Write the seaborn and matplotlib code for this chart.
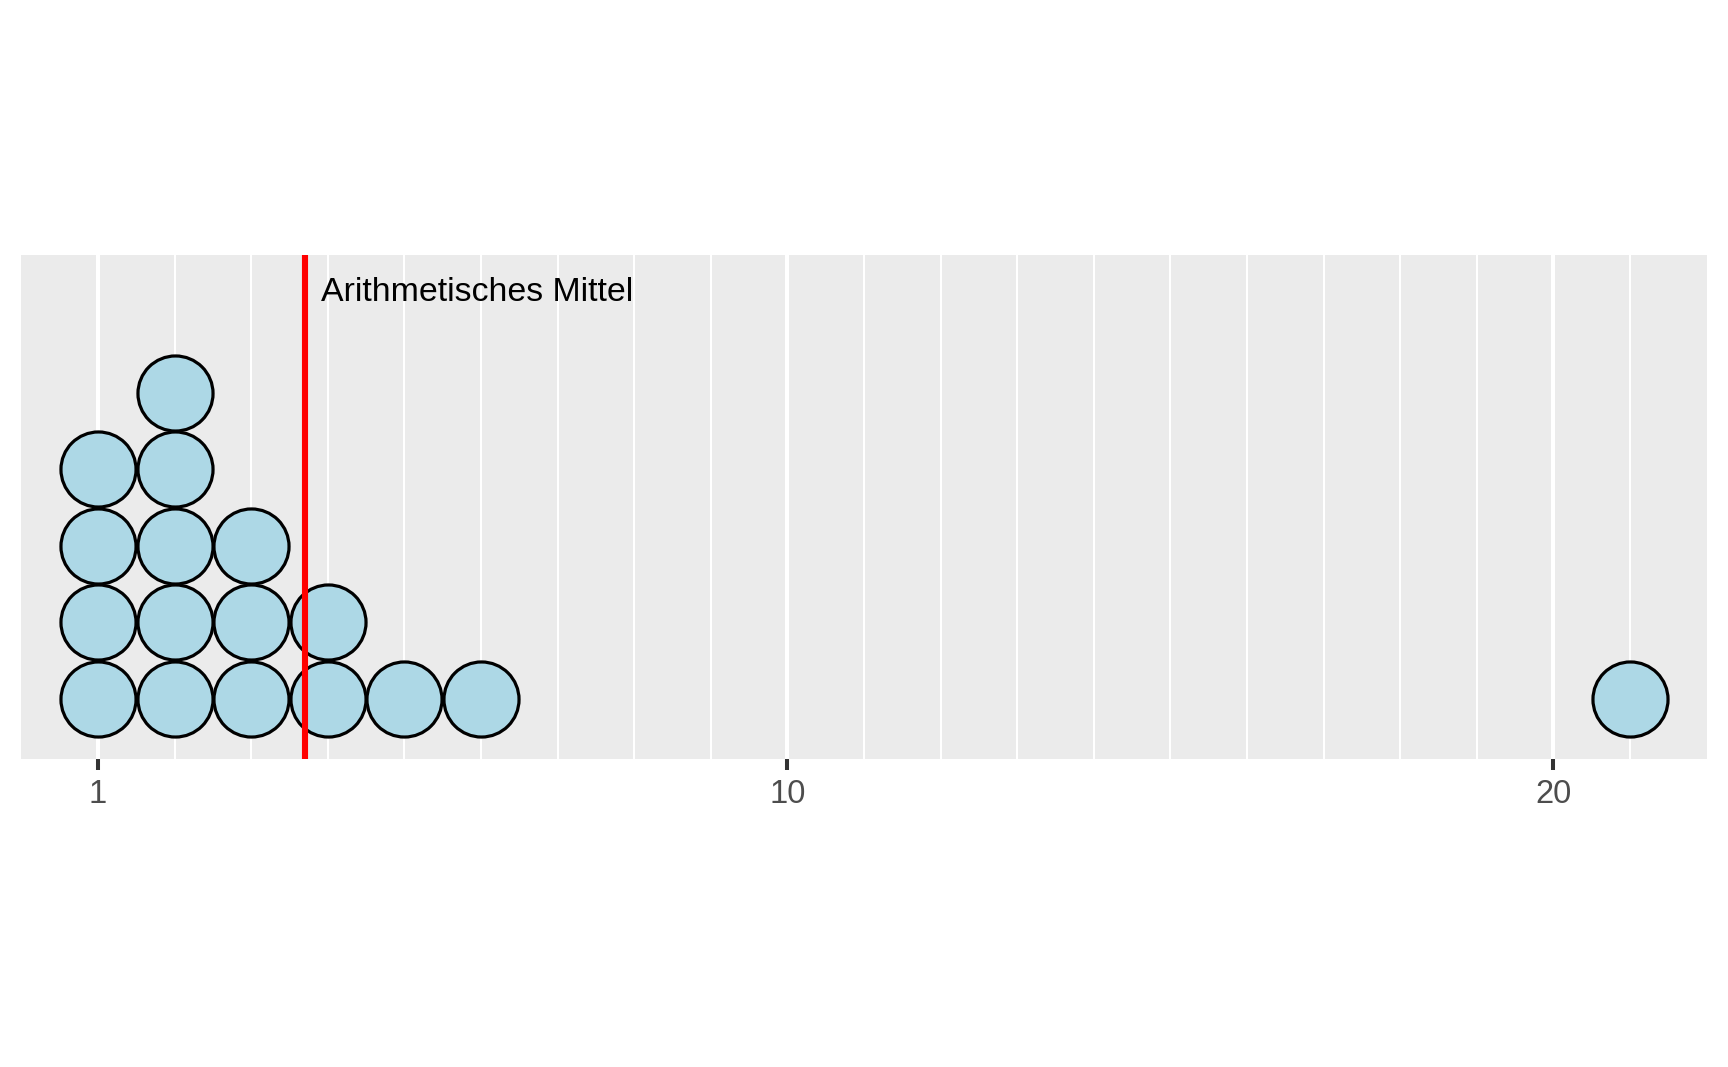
import numpy as np
import pandas as pd
import matplotlib
matplotlib.use('Agg')
import matplotlib.pyplot as plt
import seaborn as sns

# Daten
werte = [1, 1, 1, 1, 2, 2, 2, 2, 2, 3, 3, 3, 4, 4, 5, 6, 21]
x_ticks = [1, 10, 20]
x_minor = [2, 3, 4, 5, 6, 7, 8, 9, 11, 12, 13, 14, 15, 16, 17, 18, 19, 21]
label_mittel = 'Arithmetisches Mittel'

df = pd.DataFrame({'wert': werte})
# Stapelposition innerhalb jedes Wertes (Dotplot)
df['stapel'] = df.groupby('wert').cumcount() + 0.5
mittel = df['wert'].mean()

sns.set_style('white')
plt.rcParams['font.family'] = ['Liberation Sans', 'DejaVu Sans']

W, H = 1728, 1067
fig = plt.figure(figsize=(W / 100, H / 100), dpi=100)
ax = fig.add_axes([21 / W, 1 - 759 / H, (1707 - 21) / W, (759 - 255) / H])
ax.set_facecolor('#EBEBEB')

x_min, x_max = -0.005, 22.005
ax.set_xlim(x_min, x_max)
px_per_unit = ax.bbox.width / (x_max - x_min)
y_min = 0.5 - 60 / px_per_unit
y_max = y_min + ax.bbox.height / px_per_unit
ax.set_ylim(y_min, y_max)

# Punktdurchmesser = eine Einheit (in Punkten)
diam_pt = 0.98 * px_per_unit * 72 / fig.dpi
sns.scatterplot(data=df, x='wert', y='stapel', s=diam_pt ** 2, color='#ADD8E6',
                edgecolor='black', linewidth=2.3, ax=ax, zorder=3, legend=False)

ax.axvline(mittel, color='#FF0000', lw=4.4, zorder=4)
ax.text(mittel + 0.21, y_min + 5.983, label_mittel, fontsize=24.4, color='black',
        ha='left', va='baseline', zorder=5)

ax.set_xticks(x_ticks)
ax.set_xticks(x_minor, minor=True)
ax.set_xticklabels([str(t) for t in x_ticks])
ax.set_yticks([])
ax.grid(which='major', axis='x', color='white', lw=2.9)
ax.grid(which='minor', axis='x', color='white', lw=1.45)
ax.set_axisbelow(True)
for s in ax.spines.values():
    s.set_visible(False)
ax.tick_params(axis='x', which='major', length=8, width=2.9, color='#333333',
               labelsize=23.5, labelcolor='#4D4D4D', pad=6.5, bottom=True)
ax.tick_params(axis='x', which='minor', length=0)
ax.set_xlabel('')
ax.set_ylabel('')

fig.savefig('out.png', dpi=100)
